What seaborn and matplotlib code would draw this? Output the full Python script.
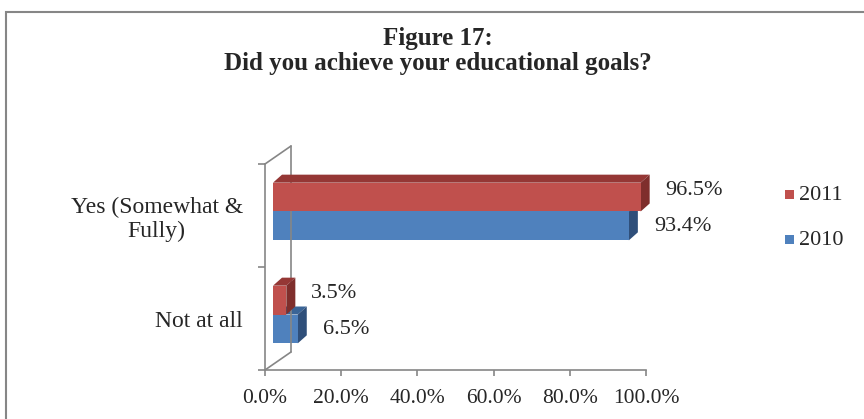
import pandas as pd
import matplotlib
matplotlib.use('Agg')
import matplotlib.pyplot as plt
import matplotlib.transforms as mtransforms
from matplotlib.patches import Polygon, Rectangle
import seaborn as sns

# chart data
categories = ['Yes (Somewhat &\nFully)', 'Not at all']
years = ['2011', '2010']
values_2011 = [96.5, 3.5]
values_2010 = [93.4, 6.5]
x_ticks = [0, 20, 40, 60, 80, 100]

df = pd.DataFrame({
    'category': categories * 2,
    'year': ['2011'] * 2 + ['2010'] * 2,
    'value': values_2011 + values_2010,
})

sns.set_style('white')
plt.rcParams['font.family'] = ['Liberation Serif', 'DejaVu Serif']

front = {'2011': '#C0504D', '2010': '#4F81BD'}
top = {'2011': '#953735', '2010': '#3A6496'}
side = {'2011': '#7F2E2C', '2010': '#2F4F7A'}
gray = '#868686'

W, H = 864, 419
fig = plt.figure(figsize=(W / 100, H / 100), dpi=100)
ax = fig.add_axes([265 / W, 49 / H, 381 / W, 206 / H])

sns.barplot(data=df, y='category', x='value', hue='year', hue_order=years,
            order=categories, palette=[front[y] for y in years], width=0.56,
            saturation=1, ax=ax, legend=False)

ax.set_xlim(0, 100)
ax.set_xticks(x_ticks)
ax.set_xticklabels([f'{t:.1f}%' for t in x_ticks])
ax.set_xlabel('')
ax.set_ylabel('')
ax.set_ylim(1.5, -0.5)
ax.set_yticks([-0.5, 0.5, 1.5], minor=True)
ax.tick_params(axis='y', which='major', length=0, pad=16, labelsize=17)
ax.tick_params(axis='y', which='minor', length=5, color=gray, width=1.2, left=True)
ax.tick_params(axis='x', length=4, color=gray, width=1.2, pad=10, labelsize=15.5, bottom=True)
for lab in ax.get_yticklabels():
    lab.set_multialignment('center')
for s in ['top', 'right']:
    ax.spines[s].set_visible(False)
for s in ['left', 'bottom']:
    ax.spines[s].set_color(gray)
    ax.spines[s].set_linewidth(1.2)

# back wall of the 3D frame
dpx = lambda dx, dy: mtransforms.offset_copy(ax.transAxes, fig=fig, x=dx, y=dy, units='dots')
ax.plot([0, 0], [0, 1], color=gray, lw=1.2, transform=dpx(26, 18), clip_on=False)
ax.plot([0, 26 / 381], [1, 1 + 18 / 206], color=gray, lw=1.2, transform=ax.transAxes, clip_on=False)
ax.plot([0, 26 / 381], [0, 18 / 206], color=gray, lw=1.2, transform=ax.transAxes, clip_on=False)

# shift bars into the 3D plane and add top and side faces
shift = mtransforms.ScaledTranslation(8 / 100, 4 / 100, fig.dpi_scale_trans)
depth_x, depth_y = 9, 8
ident = mtransforms.IdentityTransform()
for k, (year, vals) in enumerate(zip(years, [values_2011, values_2010])):
    container = ax.containers[k]
    z = 4 if year == '2011' else 2
    for p, v in zip(container.patches, vals):
        p.set_transform(ax.transData + shift)
        p.set_zorder(z)
        p.set_edgecolor('none')
        p.set_clip_on(False)
        bb = p.get_window_extent()
        x0, x1, y0, y1 = bb.x0, bb.x1, bb.y0, bb.y1
        topface = Polygon([(x0, y1), (x1, y1), (x1 + depth_x, y1 + depth_y), (x0 + depth_x, y1 + depth_y)],
                          closed=True, facecolor=top[year], edgecolor='none',
                          transform=ident, zorder=z - 1, clip_on=False)
        sideface = Polygon([(x1, y0), (x1 + depth_x, y0 + depth_y), (x1 + depth_x, y1 + depth_y), (x1, y1)],
                           closed=True, facecolor=side[year], edgecolor='none',
                           transform=ident, zorder=z - 1, clip_on=False)
        ax.add_patch(topface)
        ax.add_patch(sideface)
        dy = 7 if year == '2011' else -1
        ax.text(x1 + 25, (y0 + y1) / 2 + dy, f'{v:.1f}%', transform=ident,
                ha='left', va='center', fontsize=16, zorder=6)

# legend
for i, year in enumerate(years):
    ycen = H - (195 + 45 * i)
    fig.patches.append(Rectangle((785 / W, (ycen - 4.5) / H), 9 / W, 9 / H,
                                 facecolor=front[year], edgecolor='none',
                                 transform=fig.transFigure, figure=fig))
    fig.text(799 / W, ycen / H, year, ha='left', va='center', fontsize=16)

# title
fig.text(438 / W, (H - 51) / H, 'Figure 17:\nDid you achieve your educational goals?',
         ha='center', va='center', multialignment='center', fontsize=18,
         fontweight='bold', linespacing=1.12)

# outer border
fig.patches.append(Rectangle((6 / W, -0.1), 2, (H - 12) / H + 0.1, fill=False,
                             edgecolor=gray, linewidth=1.5,
                             transform=fig.transFigure, figure=fig))

fig.savefig('out.png', dpi=100)
